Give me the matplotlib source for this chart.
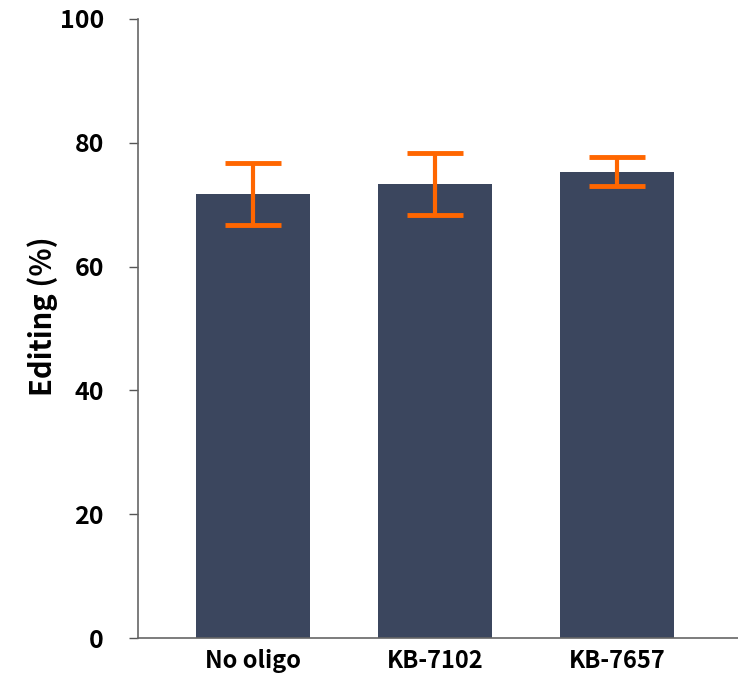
import matplotlib
matplotlib.use('Agg')
import matplotlib.pyplot as plt
import numpy as np

plt.rcParams['font.family'] = ['Noto Sans CJK SC', 'DejaVu Sans']
plt.rcParams['font.weight'] = 'bold'

categories = ['No oligo', 'KB-7102', 'KB-7657']
editing = [71.8, 73.4, 75.3]
err_low = [66.8, 68.4, 73.0]
err_high = [76.8, 78.4, 77.7]

bar_color = '#3b465e'
err_color = '#ff6600'

fig = plt.figure(figsize=(7.38, 6.79), dpi=100)
ax = fig.add_axes([138 / 738, 1 - 638 / 679, 1 - 138 / 738, (638 - 19) / 679])

x = np.arange(len(categories))
ax.bar(x, editing, width=0.626, color=bar_color, zorder=2)

yerr = np.array([np.array(editing) - np.array(err_low), np.array(err_high) - np.array(editing)])
ax.errorbar(x, editing, yerr=yerr, fmt='none', ecolor=err_color,
            elinewidth=3, capsize=20.5, capthick=3.5, zorder=3)

ax.set_xlim(-0.632, 2.665)
ax.set_ylim(0, 100)
ax.set_yticks([0, 20, 40, 60, 80, 100])
ax.set_xticks(x)
ax.set_xticklabels(categories, fontsize=17, fontweight='bold')
ax.tick_params(axis='x', length=0, pad=8)
ax.tick_params(axis='y', length=6.5, width=1, color='#555555', pad=18, labelsize=18)
for lab in ax.get_yticklabels():
    lab.set_fontweight('bold')

for side in ['top', 'right']:
    ax.spines[side].set_visible(False)
for side in ['left', 'bottom']:
    ax.spines[side].set_color('#666666')
    ax.spines[side].set_linewidth(1.2)

ax.set_ylabel('Editing (%)', fontsize=21, fontweight='bold')
ax.yaxis.set_label_coords(-80 / 600, 0.52)

fig.savefig('out.png', dpi=100)
